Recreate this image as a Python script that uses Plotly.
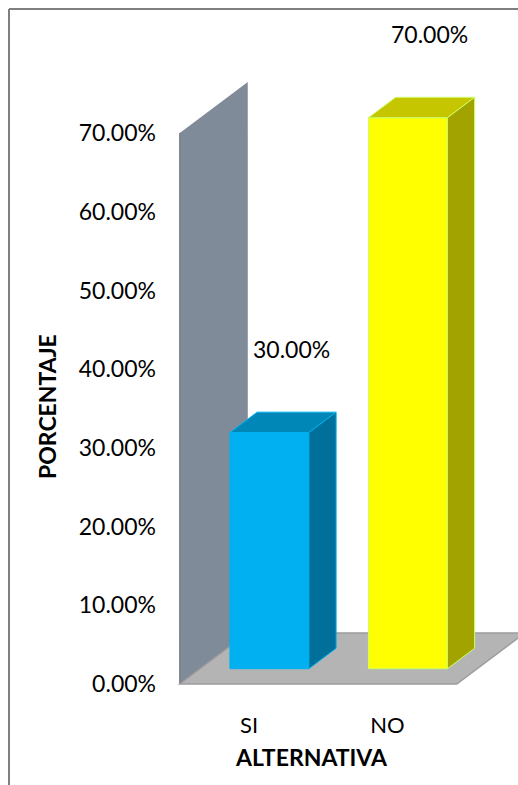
import plotly.graph_objects as go

# ---- data ----
categories = ["SI", "NO"]
values = [30.0, 70.0]          # percentage of answers
y_ticks = [0, 10, 20, 30, 40, 50, 60, 70]
y_tick_text = ["0.00%", "10.00%", "20.00%", "30.00%", "40.00%", "50.00%", "60.00%", "70.00%"]
axis_max = 70

# ---- 3D look (oblique projection in axis units) ----
DX, DY = 0.491, 6.48      # full floor depth, x units / % units
F0, F1 = 0.30, 0.70       # bar front/back depth fraction
W = 0.57                  # bar width in category units
FONT = "Lato"

front_col = ["#00B0F0", "#FFFF00"]
top_col = ["#0087B8", "#C6C600"]
side_col = ["#006F9A", "#A3A300"]
edge_col = ["#00B0F0", "#CCFF66"]

fig = go.Figure()


def path(xs, ys):
    return "M " + " L ".join(f"{x},{y}" for x, y in zip(xs, ys)) + " Z"


def poly(xs, ys, fill, line_color=None, line_width=0):
    fig.add_trace(go.Scatter(
        x=xs + [xs[0]], y=ys + [ys[0]], mode="lines", fill="toself",
        fillcolor=fill,
        line=dict(color=line_color or fill, width=line_width),
        hoverinfo="skip", showlegend=False,
    ))


n = len(categories)
x_lo, x_hi = -0.5, n - 0.5

# side wall on the left and the floor, kept beneath the bars
fig.add_shape(type="path", xref="x", yref="y", layer="below",
              path=path([x_lo, x_lo, x_lo + DX, x_lo + DX],
                        [0, axis_max, axis_max + DY, DY]),
              fillcolor="#7F8B98", line=dict(width=0))
fig.add_shape(type="line", xref="x", yref="y", layer="below",
              x0=x_lo, x1=x_lo, y0=0, y1=axis_max,
              line=dict(color="#6E767F", width=1.2))
fig.add_shape(type="path", xref="x", yref="y", layer="below",
              path=path([x_lo, x_hi, x_hi + DX, x_lo + DX], [0, 0, DY, DY]),
              fillcolor="#B4B4B4", line=dict(color="#9C9C9C", width=1.5))

# bars: front faces
fig.add_trace(go.Bar(
    x=[i + F0 * DX for i in range(n)], y=values, base=F0 * DY, width=W,
    marker=dict(color=front_col, line=dict(color=edge_col, width=1)),
    hoverinfo="skip", showlegend=False,
))

# bars: top and side faces
for i, v in enumerate(values):
    xl = i - W / 2
    xr = i + W / 2
    poly([xl + F0 * DX, xr + F0 * DX, xr + F1 * DX, xl + F1 * DX],
         [v + F0 * DY, v + F0 * DY, v + F1 * DY, v + F1 * DY],
         top_col[i], edge_col[i], 1)
    poly([xr + F0 * DX, xr + F0 * DX, xr + F1 * DX, xr + F1 * DX],
         [F0 * DY, v + F0 * DY, v + F1 * DY, F1 * DY],
         side_col[i], edge_col[i], 1)

# value labels
for i, v in enumerate(values):
    fig.add_annotation(x=i + F0 * DX, y=v + F0 * DY, text=f"{v:.2f}%",
                       showarrow=False, xshift=22, yshift=84,
                       font=dict(family=FONT, size=23, color="#000000"))

# axis titles
fig.add_annotation(x=47 / 518, y=1 - 407 / 785, xref="paper", yref="paper",
                   xanchor="center", yanchor="middle",
                   text="<b>PORCENTAJE</b>", textangle=-90, showarrow=False,
                   font=dict(family=FONT, size=23, color="#000000"))
fig.add_annotation(x=311 / 518, y=1 - 757 / 785, xref="paper", yref="paper",
                   xanchor="center", yanchor="middle",
                   text="<b>ALTERNATIVA</b>", showarrow=False,
                   font=dict(family=FONT, size=23, color="#000000"))

# chart frame (left and top edges; the rest runs off the page)
frame = dict(color="#7F7F7F", width=2)
fig.add_shape(type="line", xref="paper", yref="paper", layer="above",
              x0=9 / 518, x1=9 / 518, y0=0, y1=1 - 9 / 785, line=frame)
fig.add_shape(type="line", xref="paper", yref="paper", layer="above",
              x0=9 / 518, x1=1, y0=1 - 9 / 785, y1=1 - 9 / 785, line=frame)

fig.update_layout(
    width=518, height=785,
    margin=dict(l=0, r=0, t=0, b=0),
    paper_bgcolor="white", plot_bgcolor="white",
    barmode="overlay",
    xaxis=dict(range=[-1.798, 1.942], tickvals=list(range(n)), ticktext=categories,
               anchor="free", position=1 - 684 / 785, ticklabelstandoff=26,
               showgrid=False, zeroline=False, showline=False, ticks="",
               tickfont=dict(family=FONT, size=22, color="#000000"),
               fixedrange=True),
    yaxis=dict(range=[-12.83, 86.90], tickvals=y_ticks, ticktext=y_tick_text,
               anchor="free", position=156 / 518,
               showgrid=False, zeroline=False, showline=False, ticks="",
               tickfont=dict(family=FONT, size=23, color="#000000"),
               fixedrange=True),
    showlegend=False,
)

fig.write_html("out.html", config={"displayModeBar": False, "responsive": False})
